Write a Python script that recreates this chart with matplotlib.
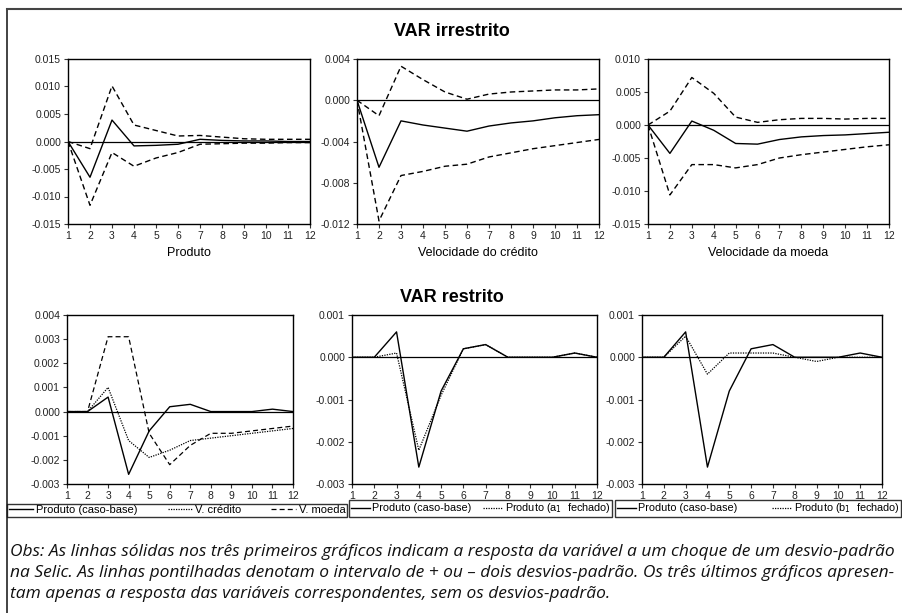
import numpy as np
import matplotlib
matplotlib.use("Agg")
import matplotlib.pyplot as plt
from matplotlib.lines import Line2D

plt.rcParams['font.family'] = ['Liberation Sans', 'DejaVu Sans']
plt.rcParams['axes.unicode_minus'] = False

# horizon (periods)
periods = list(range(1, 13))

# VAR irrestrito: response + two std-dev bands
prod_resp = [0, -0.0065, 0.0039, -0.0008, -0.0007, -0.0005, 0.0004, 0.0002, 0.0001, 0.0001, 0.0, 0.0]
prod_up = [0, -0.0013, 0.0101, 0.0030, 0.0020, 0.0010, 0.0011, 0.0008, 0.0005, 0.0004, 0.0004, 0.0004]
prod_lo = [0, -0.0116, -0.0020, -0.0045, -0.0030, -0.0020, -0.0005, -0.0004, -0.0003, -0.0003, -0.0002, -0.0002]

cred_resp = [0, -0.0065, -0.0020, -0.0024, -0.0027, -0.0030, -0.0025, -0.0022, -0.0020, -0.0017, -0.0015, -0.0014]
cred_up = [0, -0.0015, 0.0033, 0.0020, 0.0008, 0.0001, 0.0006, 0.0008, 0.0009, 0.0010, 0.0010, 0.0011]
cred_lo = [0, -0.0117, -0.0073, -0.0069, -0.0064, -0.0062, -0.0055, -0.0051, -0.0047, -0.0044, -0.0041, -0.0038]

moeda_resp = [0, -0.0043, 0.0006, -0.0008, -0.0028, -0.0029, -0.0022, -0.0018, -0.0016, -0.0015, -0.0013, -0.0011]
moeda_up = [0, 0.0021, 0.0072, 0.0048, 0.0012, 0.0004, 0.0008, 0.0010, 0.0010, 0.0009, 0.0010, 0.0010]
moeda_lo = [0, -0.0106, -0.0060, -0.0060, -0.0065, -0.0060, -0.0050, -0.0045, -0.0041, -0.0037, -0.0033, -0.0030]

# VAR restrito
base = [0, 0, 0.0006, -0.0026, -0.0008, 0.0002, 0.0003, 0, 0, 0, 0.0001, 0]
v_credito = [0, 0, 0.0010, -0.0012, -0.0019, -0.0016, -0.0012, -0.0011, -0.0010, -0.0009, -0.0008, -0.0007]
v_moeda = [0, 0, 0.0031, 0.0031, -0.0009, -0.0022, -0.0014, -0.0009, -0.0009, -0.0008, -0.0007, -0.0006]
a1_fechado = [0, 0, 0.0001, -0.0022, -0.0009, 0.0002, 0.0003, 0, 0, 0, 0.0001, 0]
b1_fechado = [0, 0, 0.0005, -0.0004, 0.0001, 0.0001, 0.0001, 0, -0.0001, 0, 0, 0]

W, H = 903, 613
fig = plt.figure(figsize=(W / 100, H / 100), dpi=100)


def px_axes(left, top, right, bottom):
    return fig.add_axes([left / W, 1 - bottom / H, (right - left) / W, (bottom - top) / H])


def style(ax, ylim, yticks):
    ax.set_xlim(1, 12)
    ax.set_ylim(*ylim)
    ax.set_xticks(periods)
    ax.set_yticks(yticks)
    ax.yaxis.set_major_formatter(matplotlib.ticker.FormatStrFormatter('%.3f'))
    ax.tick_params(labelsize=7.5, length=3, width=0.8, pad=2, color='#333333', labelcolor='#222222')
    for s in ax.spines.values():
        s.set_linewidth(1.0)
    ax.axhline(0, color='black', lw=0.9, zorder=1)


dash = (0, (4, 2.5))
dot = (0, (1, 1))

top_panels = [
    ((68, 59, 310, 224), prod_resp, prod_up, prod_lo, 'Produto', (-0.015, 0.015), [-0.015, -0.010, -0.005, 0.0, 0.005, 0.010, 0.015]),
    ((357, 59, 599, 224), cred_resp, cred_up, cred_lo, 'Velocidade do crédito', (-0.012, 0.004), [-0.012, -0.008, -0.004, 0.0, 0.004]),
    ((648, 59, 889, 224), moeda_resp, moeda_up, moeda_lo, 'Velocidade da moeda', (-0.015, 0.010), [-0.015, -0.010, -0.005, 0.0, 0.005, 0.010]),
]
for box, resp, up, lo, label, ylim, yt in top_panels:
    ax = px_axes(*box)
    style(ax, ylim, yt)
    ax.plot(periods, resp, color='black', lw=1.0)
    ax.plot(periods, up, color='black', lw=1.0, linestyle=dash)
    ax.plot(periods, lo, color='black', lw=1.0, linestyle=dash)
    ax.set_xlabel(label, fontsize=9, labelpad=4)

fig.text(452 / W, 1 - 32 / H, 'VAR irrestrito', ha='center', va='center', fontsize=13, fontweight='bold')
fig.text(452 / W, 1 - 297 / H, 'VAR restrito', ha='center', va='center', fontsize=13, fontweight='bold')

ry = (-0.003, 0.001)
ryt = [-0.003, -0.002, -0.001, 0.0, 0.001]

leg_kw = dict(loc='lower left', mode='expand', fontsize=8, frameon=True, fancybox=False,
              edgecolor='black', borderpad=0.15, handletextpad=0.25, columnspacing=0.2,
              handlelength=2.2, borderaxespad=0)

ax = px_axes(67, 315, 293, 484)
style(ax, (-0.003, 0.004), [-0.003, -0.002, -0.001, 0.0, 0.001, 0.002, 0.003, 0.004])
h1, = ax.plot(periods, base, color='black', lw=1.0, label='Produto (caso-base)')
h2, = ax.plot(periods, v_credito, color='black', lw=0.9, linestyle=dot, label='V. crédito')
h3, = ax.plot(periods, v_moeda, color='black', lw=0.9, linestyle=dash, label='V. moeda')
leg = fig.legend(handles=[h1, h2, h3], ncol=3, bbox_to_anchor=(7 / W, 1 - 517 / H, 340 / W, 16 / H), **leg_kw)
leg.get_frame().set_linewidth(1.0)

leg_kw.update(fontsize=7.8, handlelength=1.8, handletextpad=0.2)

ax = px_axes(352, 315, 597, 484)
style(ax, ry, ryt)
h1, = ax.plot(periods, base, color='black', lw=1.0, label='Produto (caso-base)')
h2, = ax.plot(periods, a1_fechado, color='black', lw=0.9, linestyle=dot, label='Produto (a$_1$  fechado)')
leg = fig.legend(handles=[h1, h2], ncol=2, bbox_to_anchor=(349 / W, 1 - 517 / H, 263 / W, 16 / H), **leg_kw)
leg.get_frame().set_linewidth(1.0)

ax = px_axes(642, 315, 882, 484)
style(ax, ry, ryt)
h1, = ax.plot(periods, base, color='black', lw=1.0, label='Produto (caso-base)')
h2, = ax.plot(periods, b1_fechado, color='black', lw=0.9, linestyle=dot, label='Produto (b$_1$  fechado)')
leg = fig.legend(handles=[h1, h2], ncol=2, bbox_to_anchor=(615 / W, 1 - 517 / H, 286 / W, 16 / H), **leg_kw)
leg.get_frame().set_linewidth(1.0)

# outer frame (left and top)
fig.add_artist(Line2D([7 / W, 7 / W], [0, 1 - 9 / H], color='#222222', lw=1.2))
fig.add_artist(Line2D([7 / W, 1], [1 - 9 / H, 1 - 9 / H], color='#444444', lw=1.5))

obs = [
    'Obs: As linhas sólidas nos três primeiros gráficos indicam a resposta da variável a um choque de um desvio-padrão',
    'na Selic. As linhas pontilhadas denotam o intervalo de + ou – dois desvios-padrão. Os três últimos gráficos apresen-',
    'tam apenas a resposta das variáveis correspondentes, sem os desvios-padrão.',
]
for i, line in enumerate(obs):
    fig.text(10 / W, 1 - (552 + 21 * i) / H, line, ha='left', va='center', fontsize=12.5,
             style='italic', family=['Open Sans', 'DejaVu Sans'], color='#111111')

fig.savefig('out.png', dpi=100)
